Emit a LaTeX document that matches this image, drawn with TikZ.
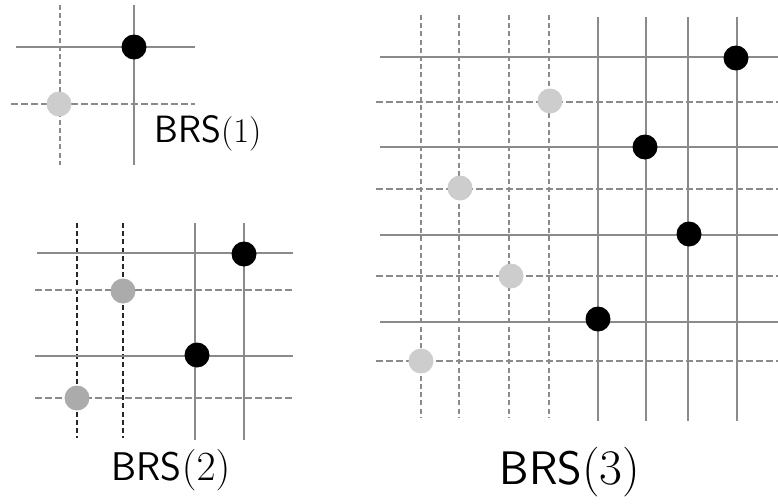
\documentclass[tikz,border=0pt]{standalone}
\usetikzlibrary{calc}
\definecolor{linegray}{HTML}{8A8A8A}
\definecolor{lightdot}{HTML}{CDCDCD}
\definecolor{middot}{HTML}{ABABAB}
\tikzset{
  solidln/.style={draw=linegray,line width=0.8pt},
  hdash/.style={draw=linegray,line width=0.7pt,dash pattern=on 3.3pt off 1.7pt},
  vdash/.style={draw=linegray,line width=0.65pt,dash pattern=on 2.5pt off 1.6pt},
  vdashdark/.style={draw=black!85,line width=0.65pt,dash pattern=on 2.5pt off 1.6pt},
  blackdot/.style={circle,fill=black,inner sep=0pt,minimum size=12.5pt},
  graydot/.style={circle,fill=lightdot,inner sep=0pt,minimum size=12.5pt},
  middotst/.style={circle,fill=middot,inner sep=0pt,minimum size=12.5pt},
  lbl/.style={inner sep=0pt,font=\fontsize{19}{22}\selectfont},
  lbltwo/.style={inner sep=0pt,font=\fontsize{20}{23}\selectfont},
  lblbig/.style={inner sep=0pt,font=\fontsize{23.5}{27}\selectfont}
}
\begin{document}
\begin{tikzpicture}[x=0.5pt,y=-0.5pt]
\useasboundingbox (0,0) rectangle (778,504);
% ---------- BRS(1)
\draw[vdash] (60,5) -- (60,165);
\draw[solidln] (134,5) -- (134,165);
\draw[solidln] (16,47) -- (195,47);
\draw[hdash] (11,104) -- (195,104);
\node[blackdot] (b1a) at (134,47) {};
\node[graydot] (g1a) at (59,104) {};
\node[lbl,anchor=west] (l1) at (154,133) {\textsf{BRS}$(1)$};
% ---------- BRS(2)
\draw[vdashdark] (77,223) -- (77,438);
\draw[vdashdark] (123,223) -- (123,438);
\draw[solidln] (195,223) -- (195,440);
\draw[solidln] (244,223) -- (244,440);
\draw[solidln] (37,253) -- (293,253);
\draw[hdash] (35,290) -- (293,290);
\draw[solidln] (35,356) -- (293,356);
\draw[hdash] (35,398) -- (293,398);
\node[blackdot] (b2a) at (244,254) {};
\node[blackdot] (b2b) at (197,355) {};
\node[middotst] (g2a) at (123,291) {};
\node[middotst] (g2b) at (77,398) {};
\node[lbltwo] (l2) at (171,470) {\textsf{BRS}$(2)$};
% ---------- BRS(3)
\foreach \x in {421,459,509,549} \draw[vdash] (\x,15) -- (\x,417);
\foreach \x in {598,646,688,737} \draw[solidln] (\x,17) -- (\x,421);
\foreach \y in {57,147,235,322} \draw[solidln] (380,\y) -- (778,\y);
\foreach \y in {102,189,276,361} \draw[hdash] (376,\y) -- (778,\y);
\node[blackdot] (b3a) at (736,58) {};
\node[blackdot] (b3b) at (645,147) {};
\node[blackdot] (b3c) at (689,234) {};
\node[blackdot] (b3d) at (598,319) {};
\node[graydot] (g3a) at (550,101) {};
\node[graydot] (g3b) at (460,188) {};
\node[graydot] (g3c) at (511,276) {};
\node[graydot] (g3d) at (421,361) {};
\node[lblbig] (l3) at (570,472) {\textsf{BRS}$(3)$};
\end{tikzpicture}
\end{document}
